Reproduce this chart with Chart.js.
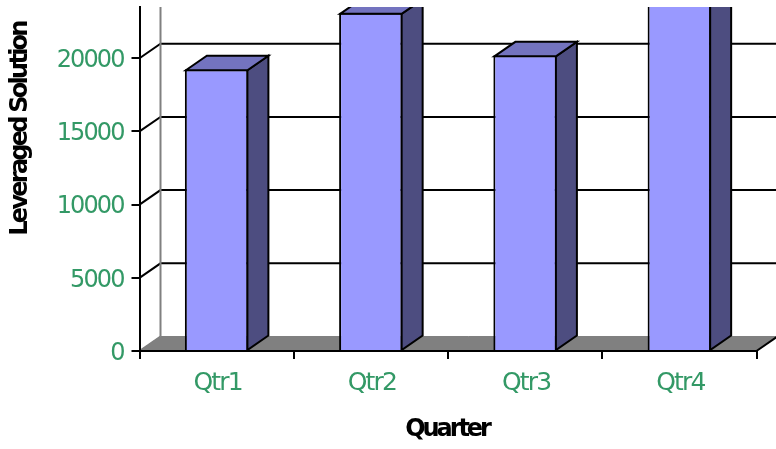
<!DOCTYPE html>
<html>
<head>
<meta charset="utf-8">
<style>html,body{margin:0;padding:0;background:#fff}canvas{display:block}</style>
<script src="https://cdn.jsdelivr.net/npm/chart.js@4"></script>
</head>
<body>
<canvas id="c" width="776" height="449"></canvas>
<script>
const categories = ['Qtr1', 'Qtr2', 'Qtr3', 'Qtr4'];
const values = [19250, 23100, 20200, 27000];
const yTickValues = [0, 5000, 10000, 15000, 20000];
const xTitle = 'Quarter';
const yTitle = 'Leveraged Solution';
const axisMax = 23500;

const GREEN = '#339966';
const DX = 21, DY = -14.5;

function axisTitle(ctx, text, x, y, rotation, spacing) {
  ctx.save();
  ctx.translate(x, y);
  ctx.rotate(rotation);
  ctx.letterSpacing = spacing;
  ctx.font = 'bold 24px "DejaVu Sans"';
  ctx.fillStyle = '#000';
  ctx.textAlign = 'center';
  ctx.textBaseline = 'middle';
  ctx.fillText(text, 0, 0);
  ctx.restore();
}

const depthPlugin = {
  id: 'depth',
  beforeDraw(chart) {
    chart.ctx.letterSpacing = '-1.9px';
  },
  beforeDatasetsDraw(chart) {
    const { ctx, scales: { x, y }, chartArea: a, width } = chart;
    ctx.save();
    ctx.beginPath();
    ctx.rect(0, a.top, width, chart.height - a.top);
    ctx.clip();
    const y0 = y.getPixelForValue(0);
    ctx.fillStyle = '#808080';
    ctx.strokeStyle = '#808080';
    ctx.lineWidth = 1;
    ctx.beginPath();
    ctx.moveTo(a.left, y0);
    ctx.lineTo(a.left + DX, y0 + DY);
    ctx.lineTo(a.right + DX, y0 + DY);
    ctx.lineTo(a.right, y0);
    ctx.closePath();
    ctx.fill();
    ctx.stroke();
    ctx.lineWidth = 2;
    ctx.strokeStyle = '#000';
    y.ticks.forEach(t => {
      if (t.value === 0) return;
      const p = y.getPixelForValue(t.value);
      ctx.beginPath();
      ctx.moveTo(a.left, p);
      ctx.lineTo(a.left + DX, p + DY);
      ctx.lineTo(width, p + DY);
      ctx.stroke();
    });
    ctx.strokeStyle = '#808080';
    ctx.beginPath();
    ctx.moveTo(a.left + DX, a.top);
    ctx.lineTo(a.left + DX, y0 + DY);
    ctx.stroke();
    ctx.beginPath();
    ctx.moveTo(a.left, y0);
    ctx.lineTo(a.left + DX, y0 + DY);
    ctx.stroke();
    ctx.strokeStyle = '#000';
    ctx.beginPath();
    ctx.moveTo(a.right, y0);
    ctx.lineTo(a.right + DX, y0 + DY);
    ctx.stroke();
    ctx.restore();
  },
  afterDatasetsDraw(chart) {
    const { ctx, chartArea: a, width } = chart;
    const meta = chart.getDatasetMeta(0);
    ctx.save();
    ctx.beginPath();
    ctx.rect(0, a.top, width, chart.height - a.top);
    ctx.clip();
    ctx.lineWidth = 2;
    ctx.strokeStyle = '#000';
    ctx.lineJoin = 'miter';
    meta.data.forEach(bar => {
      const half = bar.width / 2;
      const l = bar.x - half + 1, r = bar.x + half - 1, t = bar.y + 1, b = bar.base;
      ctx.fillStyle = '#4D4D80';
      ctx.beginPath();
      ctx.moveTo(r, t);
      ctx.lineTo(r + DX, t + DY);
      ctx.lineTo(r + DX, b + DY);
      ctx.lineTo(r, b);
      ctx.closePath();
      ctx.fill();
      ctx.stroke();
      ctx.fillStyle = '#7373BF';
      ctx.beginPath();
      ctx.moveTo(l, t);
      ctx.lineTo(l + DX, t + DY);
      ctx.lineTo(r + DX, t + DY);
      ctx.lineTo(r, t);
      ctx.closePath();
      ctx.fill();
      ctx.stroke();
    });
    ctx.restore();
  },
  afterDraw(chart) {
    axisTitle(chart.ctx, yTitle, 21, 129, -Math.PI / 2, '-2.75px');
    axisTitle(chart.ctx, xTitle, 447, 430, 0, '-3.1px');
  }
};

new Chart(document.getElementById('c'), {
  type: 'bar',
  data: {
    labels: categories,
    datasets: [{
      data: values,
      backgroundColor: '#9999FF',
      borderColor: '#000',
      borderWidth: 2,
      barPercentage: 0.412,
      categoryPercentage: 1
    }]
  },
  plugins: [depthPlugin],
  options: {
    responsive: false,
    animation: false,
    events: [],
    layout: { padding: { top: 7, right: 19.5, left: 0, bottom: 0 } },
    plugins: { legend: { display: false }, title: { display: false }, tooltip: { enabled: false } },
    scales: {
      x: {
        afterFit(s) { s.height = 98; s.paddingLeft = 0; s.paddingRight = 0; },
        offset: true,
        grid: { offset: true, drawOnChartArea: false, drawTicks: true, tickLength: 8, color: '#000', lineWidth: 2 },
        border: { display: true, color: '#000', width: 2, z: 1 },
        ticks: { color: GREEN, font: { family: '"DejaVu Sans"', size: 25 }, padding: 9, maxRotation: 0, labelOffset: 1 }
      },
      y: {
        afterFit(s) { s.width = 139.5; s.paddingTop = 0; s.paddingBottom = 0; },
        afterBuildTicks(s) { s.ticks = yTickValues.map(v => ({ value: v })); },
        min: 0,
        max: axisMax,
        grid: { drawOnChartArea: false, drawTicks: true, tickLength: 8, color: '#000', lineWidth: 2 },
        border: { display: true, color: '#000', width: 2, z: 1 },
        ticks: { callback: v => String(v), color: GREEN, font: { family: '"DejaVu Sans"', size: 24 }, padding: 8, labelOffset: 2.5 }
      }
    }
  }
});
</script>
</body>
</html>
